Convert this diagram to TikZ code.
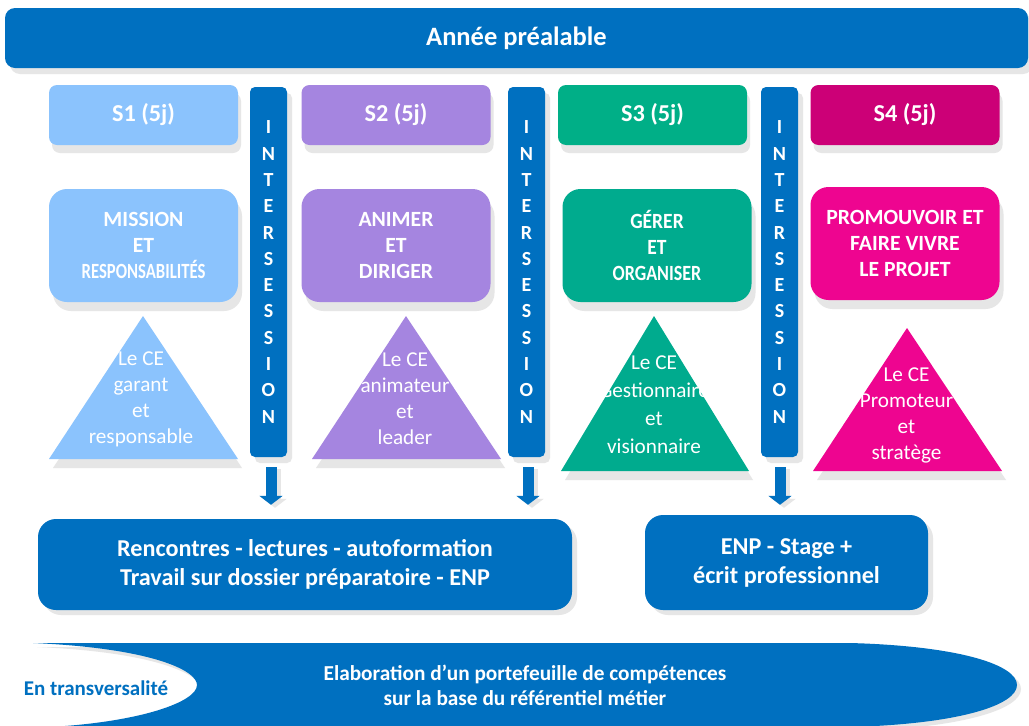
\documentclass[tikz,border=0pt]{standalone}
\usepackage{fontspec}
\usepackage{graphicx}
\setmainfont{Carlito}
\usetikzlibrary{shadows,arrows.meta}
\definecolor{mainblue}{HTML}{0070C0}
\definecolor{cA}{HTML}{8BC3FD}
\definecolor{cB}{HTML}{A585E0}
\definecolor{cC}{HTML}{00AF87}
\definecolor{cCc}{HTML}{00AB8E}
\definecolor{cD}{HTML}{CC0077}
\definecolor{cDd}{HTML}{EE0590}
\definecolor{shd}{HTML}{E6E6E6}
\begin{document}
\begin{tikzpicture}[x=1pt,y=-1pt,
  box/.style={rectangle, inner sep=0pt, text=white, align=center},
  topbar/.style={box, fill=mainblue, rounded corners=10pt, minimum width=1023pt, minimum height=60pt,
     font=\bfseries\fontsize{26.5}{28}\selectfont,
     drop shadow={shadow xshift=5pt, shadow yshift=-6pt, fill=shd, opacity=1}},
  sbox/.style={box, rounded corners=8pt, minimum width=189pt, minimum height=60pt,
     font=\bfseries\fontsize{24.3}{26}\selectfont,
     drop shadow={shadow xshift=3pt, shadow yshift=-8pt, fill=shd, opacity=1}},
  mbox/.style={box, rounded corners=18pt, minimum width=189pt, minimum height=113pt,
     font=\bfseries\fontsize{21.7}{26}\selectfont,
     drop shadow={shadow xshift=4pt, shadow yshift=-9pt, fill=shd, opacity=1}},
  ibar/.style={box, fill=mainblue, rounded corners=5pt, minimum width=37pt, minimum height=370pt,
     font=\bfseries\fontsize{20}{26.3}\selectfont,
     drop shadow={shadow xshift=5pt, shadow yshift=-6pt, fill=shd, opacity=1}},
  tritext/.style={box, font=\fontsize{21.2}{26}\selectfont},
  bbox/.style={box, fill=mainblue, rounded corners=18pt,
     font=\bfseries\fontsize{24.2}{29}\selectfont,
     drop shadow={shadow xshift=5pt, shadow yshift=-5pt, fill=shd, opacity=1}},
  blockarrow/.style={draw=mainblue, line width=11pt, -{Triangle[width=23pt,length=9pt]}},
  arrowshadow/.style={draw=shd, line width=11pt, -{Triangle[width=23pt,length=9pt]}},
  bantext/.style={box, font=\bfseries\fontsize{21.3}{25}\selectfont}
]
\useasboundingbox (0,0) rectangle (1029,726);
\fill[white] (0,0) rectangle (1029,726);

% top bar
\node[topbar] (top) at (516.5,38) {Année préalable};

% session boxes
\node[sbox, fill=cA] (s1) at (143.5,115) {S1 (5j)};
\node[sbox, fill=cB] (s2) at (396,115) {S2 (5j)};
\node[sbox, fill=cC] (s3) at (652.5,115) {S3 (5j)};
\node[sbox, fill=cD] (s4) at (905,115) {S4 (5j)};

% mission boxes
\node[mbox, fill=cA] (m1) at (143.5,245.5) {MISSION\\ET\\\scalebox{0.77}[1]{RESPONSABILITÉS}};
\node[mbox, fill=cB] (m2) at (396,245.5) {ANIMER\\ET\\DIRIGER};
\node[mbox, fill=cCc] (m3) at (657,245.5) {\scalebox{0.9}[1]{GÉRER}\\\scalebox{0.9}[1]{ET}\\\scalebox{0.83}[1]{ORGANISER}};
\node[mbox, fill=cDd] (m4) at (905,243.5) {PROMOUVOIR ET\\FAIRE VIVRE\\LE PROJET};

% intersession bars
\node[ibar] (i1) at (268.5,272) {I\\N\\T\\E\\R\\S\\E\\S\\S\\I\\O\\N};
\node[ibar] (i2) at (526.5,272) {I\\N\\T\\E\\R\\S\\E\\S\\S\\I\\O\\N};
\node[ibar] (i3) at (779.5,272) {I\\N\\T\\E\\R\\S\\E\\S\\S\\I\\O\\N};

% triangles
\fill[shd] (147,325) -- (53,468) -- (242,468) -- cycle;
\fill[cA] (143,316) -- (49,459) -- (238,459) -- cycle;
\fill[shd] (410,325) -- (316,468) -- (505,468) -- cycle;
\fill[cB] (406,316) -- (312,459) -- (501,459) -- cycle;
\fill[shd] (658,325) -- (565,480) -- (753,480) -- cycle;
\fill[cCc] (654,316) -- (561,471) -- (749,471) -- cycle;
\fill[shd] (911,337) -- (817,480) -- (1006,480) -- cycle;
\fill[cDd] (907,328) -- (813,471) -- (1002,471) -- cycle;
\node[tritext] (t1) at (141,399) {Le CE\\garant\\et\\responsable};
\node[tritext] (t2) at (405,399) {Le CE\\animateur\\et\\leader};
\node[tritext, font=\fontsize{21.2}{28}\selectfont] (t3) at (654,405) {Le CE\\Gestionnaire\\et\\visionnaire};
\node[tritext] (t4) at (906.5,415) {Le CE\\Promoteur\\et\\stratège};

% bottom boxes
\node[bbox, minimum width=534pt, minimum height=91pt] (b1) at (305,564.5)
  {Rencontres - lectures - autoformation\\Travail sur dossier préparatoire - ENP};
\node[bbox, minimum width=283pt, minimum height=95pt] (b2) at (786.5,562.5)
  {ENP - Stage +\\écrit professionnel};

% arrows
\draw[arrowshadow, shorten <=12pt, shorten >=11pt] ([xshift=6.5pt]i1.south) -- ([xshift=6.5pt]i1.south |- b1.north);
\draw[blockarrow, shorten <=10pt, shorten >=14pt] ([xshift=2.5pt]i1.south) -- ([xshift=2.5pt]i1.south |- b1.north);
\draw[arrowshadow, shorten <=12pt, shorten >=11pt] ([xshift=5.5pt]i2.south) -- ([xshift=5.5pt]i2.south |- b1.north);
\draw[blockarrow, shorten <=10pt, shorten >=14pt] ([xshift=1.5pt]i2.south) -- ([xshift=1.5pt]i2.south |- b1.north);
\draw[arrowshadow, shorten <=12pt, shorten >=7pt] ([xshift=4.5pt]i3.south) -- ([xshift=4.5pt]i3.south |- b2.north);
\draw[blockarrow, shorten <=10pt, shorten >=10pt] ([xshift=0.5pt]i3.south) -- ([xshift=0.5pt]i3.south |- b2.north);

% bottom banner
\fill[shd, shift={(4,4)}] (33,643) -- (850,643) .. controls (960,646) and (1017,665) .. (1017,685)
  .. controls (1017,705) and (960,724) .. (850,727) -- (50,727)
  .. controls (140,722) and (197,702) .. (197,685)
  .. controls (197,670) and (150,648) .. (33,643) -- cycle;
\fill[mainblue] (33,643) -- (850,643) .. controls (960,646) and (1017,665) .. (1017,685)
  .. controls (1017,705) and (960,724) .. (850,727) -- (50,727)
  .. controls (140,722) and (197,702) .. (197,685)
  .. controls (197,670) and (150,648) .. (33,643) -- cycle;
\node[bantext] (ban) at (525,685.5) {Elaboration d’un portefeuille de compétences\\sur la base du référentiel métier};
\node[bantext, text=mainblue, font=\bfseries\fontsize{21}{22}\selectfont] (trans) at (96,688) {En transversalité};
\end{tikzpicture}
\end{document}
